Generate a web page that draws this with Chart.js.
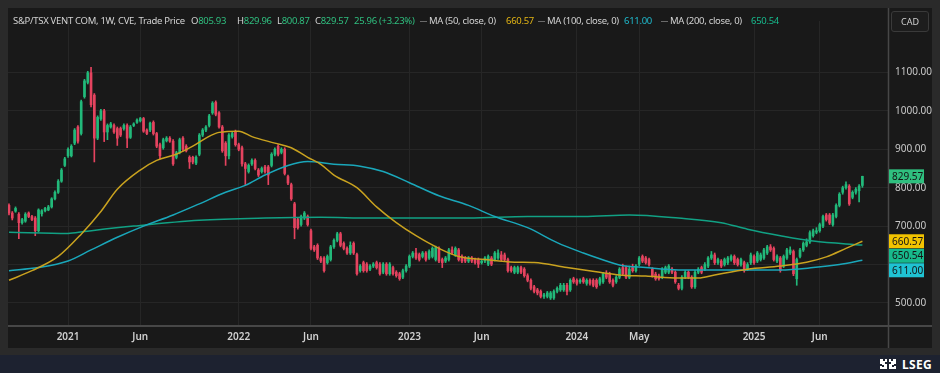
<!DOCTYPE html>
<html>
<head>
<meta charset="utf-8">
<script src="https://cdn.jsdelivr.net/npm/chart.js@4.4.1/dist/chart.umd.min.js"></script>
<style>
html, body { margin: 0; padding: 0; background: #2a2a2a; }
#wrap { position: relative; width: 940px; height: 373px; overflow: hidden; background: #2a2a2a; font-family: "Noto Sans", sans-serif; }
#panel { position: absolute; left: 8px; top: 8px; width: 924px; height: 340px; background: #191919; }
#chart { position: absolute; left: 0; top: 0; }
.hd { position: absolute; top: 6px; line-height: 14px; font-size: 9.5px; letter-spacing: -0.3px; color: #d2d2d2; white-space: nowrap; }
.g { color: #2fbf7f; }
.dash { position: absolute; top: 13px; width: 7px; height: 1px; background: #6a6a6a; }
.cad { position: absolute; left: 883px; top: 3px; width: 36px; height: 19px; border: 1px solid #3a3a3a; border-radius: 3px; background: #1d1d1d; color: #cfcfcf; font-size: 9px; line-height: 19px; text-align: center; }
#footer { position: absolute; left: 0; top: 355px; width: 940px; height: 18px; background: #1d2230; }
#logo { position: absolute; right: 8px; top: 1px; height: 16px; display: flex; align-items: center; color: #fff; font-weight: 700; font-size: 12px; letter-spacing: 0.3px; }
#logo svg { margin-right: 4px; }
</style>
</head>
<body>
<div id="wrap">
  <div id="panel">
    <canvas id="chart" width="924" height="340"></canvas>
    <span class="hd" style="left:5px">S&amp;P/TSX VENT COM, 1W, CVE, Trade Price</span>
    <span class="hd" style="left:183px">O<span class="g">805.93</span></span>
    <span class="hd" style="left:229px">H<span class="g">829.96</span></span>
    <span class="hd" style="left:269px">L<span class="g">800.87</span></span>
    <span class="hd" style="left:307px">C<span class="g">829.57</span></span>
    <span class="hd g" style="left:346px">25.96 (+3.23%)</span>
    <div class="dash" style="left:412px"></div>
    <span class="hd" style="left:421px">MA (50, close, 0)</span>
    <span class="hd" style="left:498px;color:#e3b514">660.57</span>
    <div class="dash" style="left:530px"></div>
    <span class="hd" style="left:539px">MA (100, close, 0)</span>
    <span class="hd" style="left:616px;color:#1fb9cc">611.00</span>
    <div class="dash" style="left:653px"></div>
    <span class="hd" style="left:662px">MA (200, close, 0)</span>
    <span class="hd" style="left:743px;color:#17b98c">650.54</span>
    <div class="cad">CAD</div>
  </div>
  <div id="footer">
    <div id="logo">
      <svg width="20" height="14" viewBox="0 0 20 14">
        <path d="M2 2h3v2h2V2h2v3H7v2h2v5H2V9h2V7H2z" fill="#fff"/>
        <path d="M11 2h2v2h2V2h3v5h-2v2h2v3h-7V7h2V5h-2z" fill="#fff"/>
        <rect x="4" y="8" width="2" height="2" fill="#1d2230"/>
        <rect x="14" y="8" width="2" height="2" fill="#1d2230"/>
      </svg>
      LSEG
    </div>
  </div>
</div>
<script>
// weekly candles, Aug 2020 .. Aug 2025
const opens = [
  754,734,739,731,709,713,734,725,721,688, 732,740,742,750,771,788,817,858,883,883,
  916,958,941,1037,1074,1099,1041,929,979,1000, 945,958,962,954,954,954,962,931,962,970,
  974,980,950,950,970,941,912,904,922,929, 921,879,891,929,908,879,879,864,887,937,
  950,962,995,1022,995,958,916,883,933,946, 912,904,862,842,862,871,846,842,854,854,
  858,887,908,892,900,829,808,758,717,704, 721,725,688,646,650,617,617,605,613,646,
  663,680,655,642,630,655,626,584,605,601, 588,596,605,601,580,601,576,592,580,576,
  567,584,596,621,630,626,621,630,617,621, 613,642,613,609,613,638,625,638,621,617,
  609,617,613,613,605,609,601,617,613,617, 625,625,613,592,580,580,592,588,571,559,
  542,534,530,517,517,513,513,530,534,534, 546,534,563,559,555,563,551,559,559,559,
  551,555,576,576,559,555,567,592,592,567, 592,584,601,621,617,613,588,575,571,567,
  580,580,588,580,546,538,567,580,567,542, 580,592,588,596,617,625,605,609,600,605,
  613,621,613,600,605,588,605,621,609,613, 617,630,646,642,609,617,596,617,630,634,
  563,621,638,650,659,675,684,688,700,729, 729,704,725,754,788,800,804,775,788,792,
  805.93
];
const highs = [
  758,738,750,735,720,735,737,728,725,745, 743,749,754,774,792,821,850,879,904,912,
  954,962,1028,1082,1103,1113,1045,987,1004,1004, 966,970,966,958,958,966,966,962,969,979,
  983,983,953,971,974,944,916,929,933,933, 925,895,929,933,912,883,882,883,941,954,
  962,991,1024,1026,998,962,920,941,945,950, 916,908,866,862,875,875,850,854,858,858,
  891,904,912,904,904,833,812,762,721,729, 738,729,692,650,654,621,621,625,650,667,
  684,684,659,646,659,659,630,600,609,605, 600,605,609,605,605,605,605,596,584,580,
  588,600,625,634,642,630,634,634,638,646, 648,646,617,621,642,646,646,642,625,621,
  621,621,617,617,613,621,625,621,634,638, 634,630,617,596,596,596,596,592,576,563,
  546,538,534,525,530,530,534,542,551,551, 551,563,567,563,563,567,563,563,563,563,
  567,580,584,580,563,571,592,601,596,596, 601,600,621,625,621,617,592,580,575,592,
  596,600,592,584,551,571,584,584,571,584, 592,596,605,621,634,630,617,613,617,621,
  625,625,617,617,609,605,630,625,634,630, 642,650,652,646,625,621,625,642,646,638,
  617,642,659,667,688,692,696,708,729,733, 733,733,758,787,804,815,808,792,800,808,
  829.96
];
const lows = [
  729,716,736,667,705,710,722,714,675,685, 726,737,740,747,768,785,814,855,879,880,
  912,916,937,1033,1070,1010,867,925,975,920, 925,955,941,910,933,950,904,928,959,967,
  971,944,938,946,937,904,875,900,919,918, 858,875,888,896,893,850,862,860,883,933,
  946,958,991,987,955,892,858,875,929,908, 896,856,808,838,858,846,829,838,838,808,
  854,883,883,888,833,808,767,667,692,700, 717,700,638,634,613,605,580,601,609,642,
  659,646,638,626,626,626,572,580,580,580, 584,592,588,572,576,572,572,572,567,559,
  563,580,592,617,613,609,617,609,613,617, 609,605,592,605,609,626,621,609,605,605,
  605,605,601,592,601,605,597,597,609,613, 609,609,580,580,576,576,576,567,555,534,
  526,521,513,512,513,509,509,526,530,530, 521,530,551,546,551,551,546,546,542,538,
  546,551,563,551,542,551,563,571,563,563, 580,580,597,605,601,596,567,559,559,563,
  576,576,576,551,534,534,563,563,538,538, 576,576,584,592,613,600,600,592,596,600,
  609,600,596,596,580,584,600,600,605,609, 613,626,634,609,605,580,592,613,626,571,
  546,617,634,646,655,671,680,684,696,713, 704,700,721,750,783,796,754,771,783,763,
  800.87
];
const closes = [
  734,721,746,709,717,731,725,717,688,742, 740,746,750,771,788,817,846,875,900,908,
  950,921,1024,1078,1099,1016,929,983,1000,945, 962,966,945,929,937,962,929,958,966,976,
  980,947,941,968,941,908,883,925,929,921, 862,891,925,900,896,867,867,879,937,950,
  958,987,1020,991,958,896,883,937,941,912, 900,862,850,858,871,850,833,850,842,833,
  887,900,887,900,837,812,771,696,696,725, 734,704,642,638,617,609,584,621,646,663,
  680,650,642,630,650,630,576,596,584,584, 596,601,592,576,601,576,601,576,571,563,
  584,596,621,630,617,613,630,613,634,642, 644,609,605,617,638,630,642,613,609,609,
  617,609,605,601,609,617,621,601,630,630, 613,613,584,584,592,592,580,571,559,538,
  530,526,517,521,526,526,530,538,546,546, 530,559,555,551,559,555,559,551,546,542,
  563,576,567,555,546,567,588,576,567,588, 584,596,617,609,605,600,571,563,563,588,
  592,596,580,555,538,567,580,567,542,580, 588,580,600,617,625,605,613,596,613,617,
  621,605,600,613,584,600,625,605,630,625, 638,646,638,613,621,584,621,638,638,576,
  613,638,655,659,683,688,688,704,725,717, 708,729,754,783,800,808,758,788,796,804,
  829.57
];

// moving averages at sample weeks
const ma50Weeks  = [0, 7, 15, 22, 28, 33, 40, 45, 51, 56, 60, 64, 70, 74, 81, 86, 91, 95, 99, 106, 112, 118, 124, 131, 137, 145, 154, 160, 170, 180, 186, 194, 204, 210, 215, 225, 235, 243, 249, 255, 260];
const ma50Values = [559, 584, 621, 679, 738, 796, 846, 871, 887, 908, 929, 944, 947, 933, 916, 904, 879, 861, 833, 800, 750, 709, 675, 642, 621, 613, 606, 605, 592, 580, 573, 570, 565, 565, 573, 588, 596, 606, 620, 642, 660.57];
const ma100Weeks  = [0, 9, 18, 25, 33, 41, 50, 58, 66, 72, 78, 85, 91, 99, 107, 114, 122, 131, 140, 148, 158, 167, 175, 180, 186, 194, 204, 220, 235, 245, 253, 260];
const ma100Values = [584, 592, 609, 638, 671, 700, 729, 758, 788, 806, 833, 858, 868, 861, 856, 842, 813, 779, 754, 725, 696, 657, 630, 615, 599, 592, 586, 586, 586, 592, 600, 611.00];
const ma200Weeks  = [0, 18, 23, 38, 58, 78, 95, 110, 140, 158, 175, 189, 204, 217, 225, 235, 245, 260];
const ma200Values = [684, 681, 686, 700, 715, 721, 723, 721, 721, 725, 725, 729, 721, 709, 692, 675, 661, 650.54];

// axis ticks
const xTickWeeks = [18, 40, 70, 92, 122, 144, 173, 192, 227, 247];
const xTickLabels = ['2021', 'Jun', '2022', 'Jun', '2023', 'Jun', '2024', 'May', '2025', 'Jun'];
const yTickValues = [500, 600, 700, 800, 900, 1000, 1100];
const yTickLabels = ['500.00', '', '700.00', '800.00', '900.00', '1000.00', '1100.00'];

// last-value tags on the price axis
const tagValues = [829.57, 660.57, 650.54, 611.00];
const tagLabels = ['829.57', '660.57', '650.54', '611.00'];
const tagColors = ['#2fbf7f', '#f2c300', '#17b98c', '#1fc3d3'];

const upColor = '#22b97a';
const downColor = '#e5435f';
const weeks = opens.map((o, i) => i);
const candleColors = closes.map((c, i) => c >= opens[i] ? upColor : downColor);

const frameLines = {
    id: 'frameLines',
    afterDraw(chart) {
        const { ctx, chartArea } = chart;
        ctx.save();
        ctx.strokeStyle = '#474747';
        ctx.lineWidth = 2;
        ctx.beginPath();
        ctx.moveTo(0, chartArea.bottom + 1);
        ctx.lineTo(chart.width, chartArea.bottom + 1);
        ctx.stroke();
        ctx.lineWidth = 1.5;
        ctx.beginPath();
        ctx.moveTo(chartArea.right + 0.5, 0);
        ctx.lineTo(chartArea.right + 0.5, chart.height);
        ctx.stroke();
        ctx.restore();
    }
};

const valueTags = {
    id: 'valueTags',
    afterDraw(chart) {
        const { ctx, chartArea } = chart;
        const y = chart.scales.y;
        const h = 14;
        let items = tagValues.map((v, k) => ({ py: y.getPixelForValue(v), k }));
        items.sort((a, b) => a.py - b.py);
        for (let n = 1; n < items.length; n++) {
            if (items[n].py - items[n - 1].py < h + 0.5) items[n].py = items[n - 1].py + h + 0.5;
        }
        ctx.save();
        ctx.font = '10px "Noto Sans"';
        ctx.textBaseline = 'middle';
        items.forEach(it => {
            ctx.fillStyle = tagColors[it.k];
            ctx.fillRect(chartArea.right + 1, it.py - h / 2, 35, h);
            ctx.fillStyle = '#141414';
            ctx.fillText(tagLabels[it.k], chartArea.right + 4, it.py + 0.5);
        });
        ctx.restore();
    }
};

function maLine(label, wks, vals, color) {
    return {
        type: 'line',
        label: label,
        data: wks.map((w, k) => ({ x: w, y: vals[k] })),
        borderColor: color,
        borderWidth: 1.5,
        pointRadius: 0,
        cubicInterpolationMode: 'monotone',
        order: 0
    };
}

let ctx = document.getElementById('chart').getContext('2d');

new Chart(ctx, {
    type: 'bar',
    data: {
        datasets: [
            maLine('MA (50, close, 0)', ma50Weeks, ma50Values, '#c9a21f'),
            maLine('MA (100, close, 0)', ma100Weeks, ma100Values, '#1aa7ba'),
            maLine('MA (200, close, 0)', ma200Weeks, ma200Values, '#11a184'),
            {
                label: 'body',
                data: weeks.map(i => ({ x: i, y: [opens[i], closes[i]] })),
                backgroundColor: candleColors,
                barThickness: 2,
                minBarLength: 1,
                grouped: false,
                order: 1
            },
            {
                label: 'wick',
                data: weeks.map(i => ({ x: i, y: [lows[i], highs[i]] })),
                backgroundColor: candleColors,
                barThickness: 1,
                grouped: false,
                order: 2
            }
        ]
    },
    options: {
        responsive: false,
        animation: false,
        layout: { padding: 0 },
        plugins: { legend: { display: false }, tooltip: { enabled: false } },
        scales: {
            x: {
                type: 'linear',
                min: -0.3,
                max: 267.8,
                offset: false,
                grid: { color: '#262626', drawTicks: false, offset: false },
                border: { display: false },
                afterBuildTicks: s => { s.ticks = xTickWeeks.map(v => ({ value: v })); },
                afterFit: s => { s.height = 23; },
                ticks: {
                    autoSkip: false,
                    maxRotation: 0,
                    padding: 6,
                    color: '#d0d0d0',
                    font: { family: 'Noto Sans', size: 10, weight: '600' },
                    callback: (v, i) => xTickLabels[i]
                }
            },
            y: {
                position: 'right',
                min: 442.6,
                max: 1233.9,
                grid: { color: '#262626', drawTicks: false },
                border: { display: false },
                afterBuildTicks: s => { s.ticks = yTickValues.map(v => ({ value: v })); },
                afterFit: s => { s.width = 44; },
                ticks: {
                    padding: 7,
                    color: '#c8c8c8',
                    font: { family: 'Noto Sans', size: 10 },
                    callback: (v, i) => yTickLabels[i]
                }
            }
        }
    },
    plugins: [frameLines, valueTags]
});
</script>
</body>
</html>
